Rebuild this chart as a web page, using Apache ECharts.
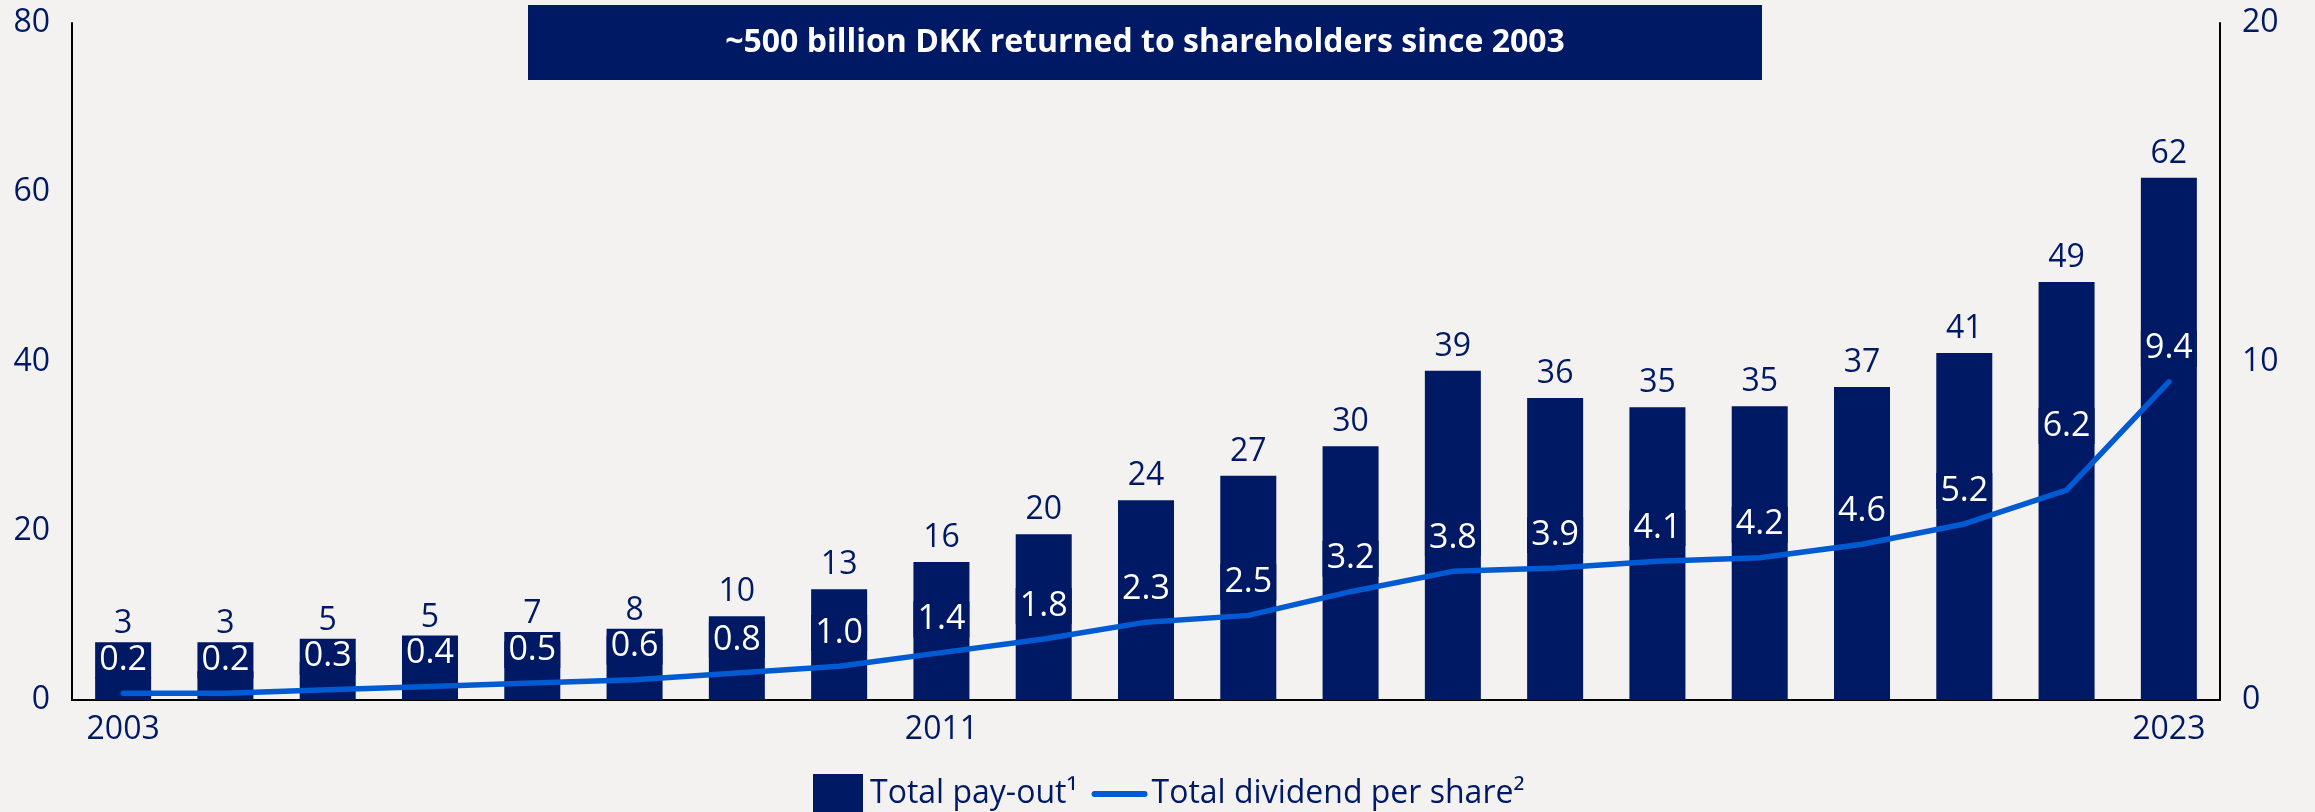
<!DOCTYPE html>
<html>
<head>
<meta charset="utf-8">
<script src="https://cdn.jsdelivr.net/npm/echarts@6/dist/echarts.min.js"></script>
<style>
  html, body { margin: 0; padding: 0; background: #f4f2f0; }
  #container { width: 2315px; height: 812px; }
</style>
</head>
<body>
<div id="container"></div>
<script>
var years = ['2003','2004','2005','2006','2007','2008','2009','2010','2011','2012','2013','2014','2015','2016','2017','2018','2019','2020','2021','2022','2023'];
// total pay-out, bn DKK (bar heights) and the printed labels
var payout = [2.7, 3.4, 4.5, 4.8, 6.9, 7.6, 9.9, 13.1, 16.3, 19.6, 23.6, 26.5, 30.0, 38.9, 35.7, 34.6, 34.7, 37.0, 41.0, 49.4, 61.7];
var payoutLabels = ['3','3','5','5','7','8','10','13','16','20','24','27','30','39','36','35','35','37','41','49','62'];
// total dividend per share, DKK
var dividend = [0.2, 0.2, 0.3, 0.4, 0.5, 0.6, 0.8, 1.0, 1.4, 1.8, 2.3, 2.5, 3.2, 3.8, 3.9, 4.1, 4.2, 4.6, 5.2, 6.2, 9.4];
var leftTicks = [0, 20, 40, 60, 80];
var rightTicks = [0, 10, 20];
var shownYears = ['2003', '2011', '2023'];

var navy = '#001965';
var blue = '#005ad2';
var font = '"Open Sans", "Noto Sans", sans-serif';

var gridTop = 23, gridBottom = 112;
var plotH = 812 - gridTop - gridBottom;
var pxLeft = plotH / leftTicks[leftTicks.length - 1];
var pxRight = plotH / rightTicks[rightTicks.length - 1];
var divLabelDist = 15, divLabelBox = 36;
var divLift = { '2022': 31 };

var dom = document.getElementById('container');
var myChart = echarts.init(dom, null, { renderer: 'canvas' });

// bar value labels sit above the dividend label box where that box sticks out of the bar
var barData = payout.map(function (v, i) {
  var boxTop = dividend[i] * pxRight + divLabelDist + divLabelBox;
  var barTop = v * pxLeft;
  if (boxTop > barTop) {
    return { value: v, label: { offset: [0, -(boxTop - barTop) + 6] } };
  }
  return v;
});
var lineData = dividend.map(function (v, i) {
  if (divLift[years[i]]) {
    return { value: v, label: { distance: divLabelDist + divLift[years[i]] } };
  }
  return v;
});

var option = {
  backgroundColor: '#f4f2f0',
  textStyle: { fontFamily: font },
  animation: false,
  grid: { left: 72, right: 95, top: gridTop, bottom: gridBottom },
  graphic: [{
    type: 'group',
    left: 528,
    top: 5,
    children: [
      { type: 'rect', shape: { x: 0, y: 0, width: 1234, height: 75 }, style: { fill: navy } },
      {
        type: 'text', x: 617, y: 38,
        style: {
          text: '~500 billion DKK returned to shareholders since 2003',
          fill: '#fff', font: 'bold 32px ' + font, textAlign: 'center', textVerticalAlign: 'middle'
        }
      }
    ]
  }],
  legend: {
    left: 808,
    top: 769,
    itemWidth: 50,
    itemHeight: 40,
    itemGap: 14,
    textStyle: { color: navy, fontSize: 32, fontFamily: font, padding: [0, 0, 0, 2] },
    data: [
      { name: 'Total pay-out¹', icon: 'rect' },
      { name: 'Total dividend per share²', itemStyle: { opacity: 0 }, lineStyle: { width: 6, cap: 'round' } }
    ]
  },
  xAxis: {
    type: 'category',
    data: years,
    axisLine: { lineStyle: { color: '#000', width: 2 } },
    axisTick: { show: false },
    axisLabel: {
      color: navy, fontSize: 32, margin: 14,
      interval: function (idx, val) { return shownYears.indexOf(val) >= 0; }
    }
  },
  yAxis: [{
    type: 'value', min: leftTicks[0], max: leftTicks[leftTicks.length - 1], interval: 20,
    axisLine: { show: true, lineStyle: { color: '#000', width: 2 } },
    axisTick: { show: false },
    splitLine: { show: false },
    axisLabel: { color: navy, fontSize: 32, margin: 22 }
  }, {
    type: 'value', min: rightTicks[0], max: rightTicks[rightTicks.length - 1], interval: 10,
    position: 'right',
    axisLine: { show: true, lineStyle: { color: '#000', width: 2 } },
    axisTick: { show: false },
    splitLine: { show: false },
    axisLabel: { color: navy, fontSize: 32, margin: 22 }
  }],
  series: [{
    name: 'Total pay-out¹',
    type: 'bar',
    data: barData,
    barWidth: 56,
    itemStyle: { color: navy },
    label: {
      show: true, position: 'top', distance: 8,
      color: navy, fontSize: 32, fontFamily: font,
      formatter: function (p) { return payoutLabels[p.dataIndex]; }
    }
  }, {
    name: 'Total dividend per share²',
    type: 'line',
    yAxisIndex: 1,
    data: lineData,
    symbol: 'circle',
    symbolSize: 0.1,
    showSymbol: true,
    lineStyle: { color: blue, width: 5.5, cap: 'round' },
    itemStyle: { color: blue },
    label: {
      show: true, position: 'top', distance: divLabelDist,
      color: '#fff', fontSize: 34, lineHeight: 32, fontFamily: font,
      backgroundColor: navy, padding: [2, 0], width: 56, align: 'center',
      formatter: function (p) { return dividend[p.dataIndex].toFixed(1); }
    },
    z: 3
  }]
};

myChart.setOption(option);
window.addEventListener('resize', myChart.resize);
</script>
</body>
</html>
